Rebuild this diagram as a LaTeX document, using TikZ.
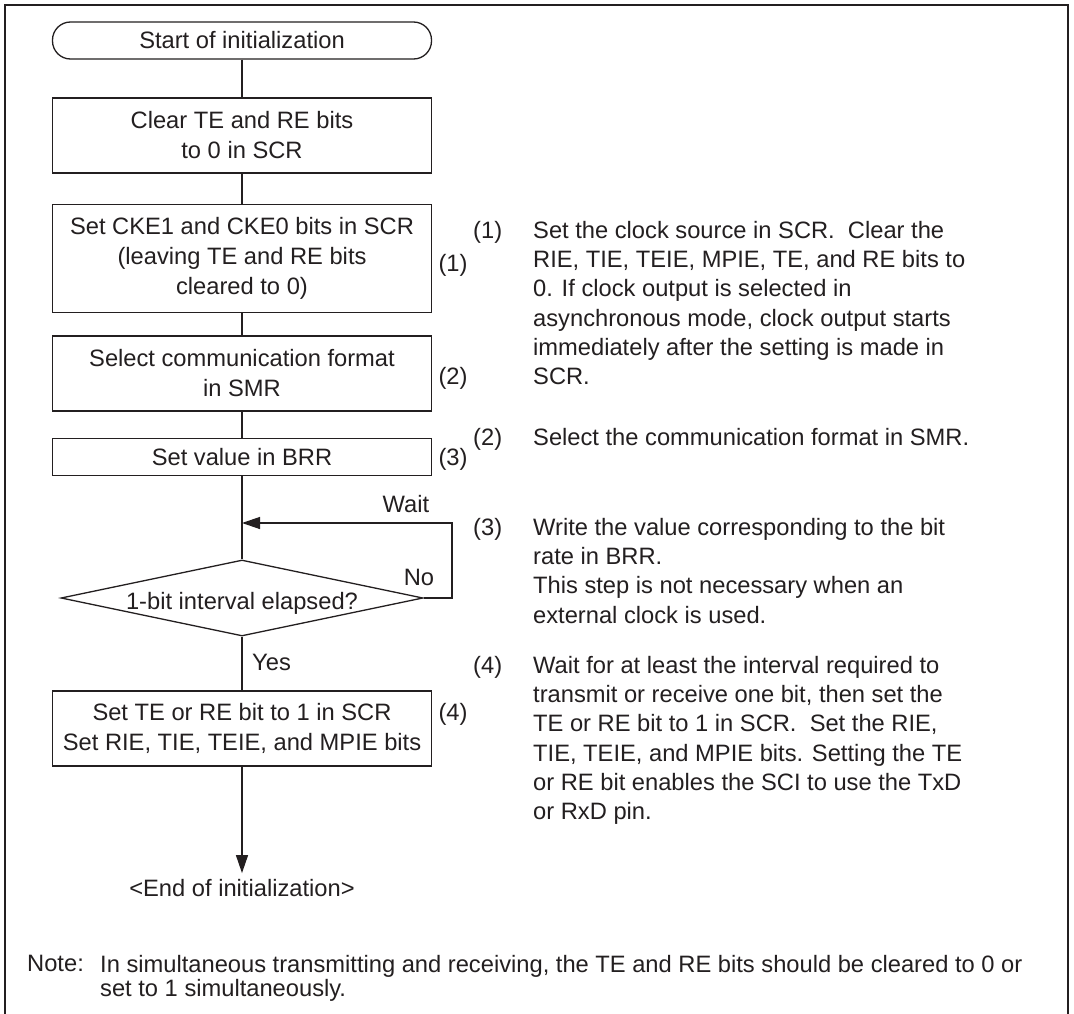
\documentclass[tikz,border=0pt]{standalone}
\usepackage{fontspec}
\setmainfont{Liberation Sans}
\usetikzlibrary{shapes.geometric,arrows.meta}
\definecolor{ink}{RGB}{35,31,32}
\begin{document}
\begin{tikzpicture}[x=1pt,y=-1pt,
  every node/.style={font=\fontsize{23.7}{30}\selectfont, text=ink, inner sep=0pt},
  proc/.style={draw=ink, line width=1.3pt, minimum width=379pt, align=center},
  term/.style={proc, rounded corners=18pt, minimum height=37pt},
  decision/.style={diamond, draw=ink, line width=1.3pt, minimum width=362pt, minimum height=76pt},
  flow/.style={draw=ink, line width=1.3pt},
  arr/.style={flow, -{Triangle[length=18pt,width=12pt]}},
  num/.style={anchor=north west},
  desc/.style={anchor=north west, align=left, font=\fontsize{23.7}{29.3}\selectfont},
]
\useasboundingbox (0,0) rectangle (1074,1014);
\fill[white] (0,0) rectangle (1074,1014);
\draw[ink, line width=2.4pt] (5,1020) -- (5,5) -- (1068,5) -- (1068,1020);

% flowchart
\node[term] (start) at (242,40.5) {Start of initialization};
\node[proc, minimum height=75pt] (b1) at (242,135.5) {Clear TE and RE bits\\to 0 in SCR};
\node[proc, minimum height=108pt] (b2) at (242,258.5) {Set CKE1 and CKE0 bits in SCR\\(leaving TE and RE bits\\cleared to 0)};
\node[proc, minimum height=75pt] (b3) at (242,373.5) {Select communication format\\in SMR};
\node[proc, minimum height=37pt] (b4) at (242,457) {Set value in BRR};
\node[decision] (dec) at (242,598) {};
\node (dectext) at ([yshift=-5pt]dec.center) {1-bit interval elapsed?};
\node[proc, minimum height=75pt] (b5) at (242,728.5) {Set TE or RE bit to 1 in SCR\\Set RIE, TIE, TEIE, and MPIE bits};
\node (end) at (242,888) {<End of initialization>};

\coordinate (lp) at (452,523);
\coordinate (jn) at (242,523);

\draw[flow] (start) -- (b1);
\draw[flow] (b1) -- (b2);
\draw[flow] (b2) -- (b3);
\draw[flow] (b3) -- (b4);
\draw[flow] (b4) -- (dec);
\draw[flow] (dec) -- (b5);
\draw[arr] (b5) -- ([yshift=6pt]end.north);
\draw[arr] (dec.east) -| (lp) -- (jn);

\node (wait) at (406,504) {Wait};
\node (no) at (419,577) {No};
\node[anchor=west] (yes) at (252,662) {Yes};

\node (n1) at (453,265) {(1)};
\node (n2) at (453,378) {(2)};
\node (n3) at (453,459) {(3)};
\node (n4) at (453,714) {(4)};

% descriptions
\node[num] (r1) at (473,221) {(1)};
\node[desc] (t1) at (533,221) {Set the clock source in SCR.~ Clear the\\RIE, TIE, TEIE, MPIE, TE, and RE bits to\\0. If clock output is selected in\\asynchronous mode, clock output starts\\immediately after the setting is made in\\SCR.};
\node[num] (r2) at (473,428) {(2)};
\node[desc] (t2) at (533,428) {Select the communication format in SMR.};
\node[num] (r3) at (473,518) {(3)};
\node[desc] (t3) at (533,518) {Write the value corresponding to the bit\\rate in BRR.\\This step is not necessary when an\\external clock is used.};
\node[num] (r4) at (473,656) {(4)};
\node[desc] (t4) at (533,656) {Wait for at least the interval required to\\transmit or receive one bit, then set the\\TE or RE bit to 1 in SCR.~ Set the RIE,\\TIE, TEIE, and MPIE bits. Setting the TE\\or RE bit enables the SCI to use the TxD\\or RxD pin.};

% note
\node[num] (notel) at (27,955) {Note:};
\node[desc, font=\fontsize{23.7}{24}\selectfont] (notet) at (100,955) {In simultaneous transmitting and receiving, the TE and RE bits should be cleared to 0 or\\set to 1 simultaneously.};
\end{tikzpicture}
\end{document}
